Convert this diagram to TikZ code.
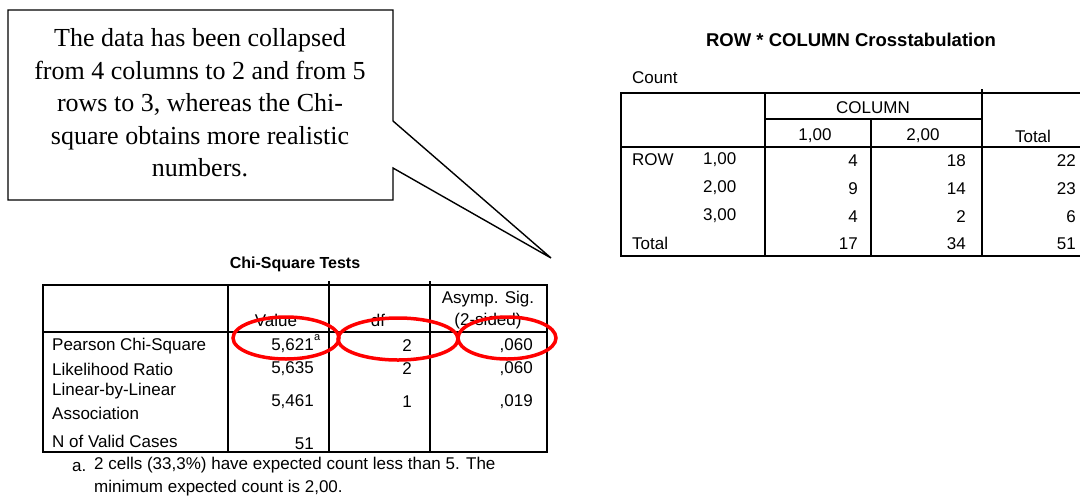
\documentclass[tikz,border=0pt]{standalone}
\usepackage{fontspec}
\setmainfont{Liberation Serif}
\newfontfamily\arial{Liberation Sans}
\usetikzlibrary{shapes.geometric}
\tikzset{
  tbl/.style={font=\arial\fontsize{17}{20}\selectfont, inner sep=0pt},
  ttl/.style={font=\arial\bfseries\fontsize{16}{19}\selectfont, inner sep=0pt},
  frame/.style={line width=1.6pt, line cap=rect},
  ring/.style={ellipse, draw=red, line width=3.5pt, inner sep=0pt},
  callout/.style={line width=1.4pt, line join=miter},
}
\begin{document}
\begin{tikzpicture}[x=1pt,y=-1pt]
\useasboundingbox (0,0) rectangle (1080,499);
\fill[white] (0,0) rectangle (1080,499);

% ---------- callout ----------
\coordinate (cTL) at (8,10);
\coordinate (cTR) at (393,10);
\coordinate (cN1) at (393,121);
\coordinate (tip) at (551,258);
\coordinate (cN2) at (393,168);
\coordinate (cBR) at (393,200);
\coordinate (cBL) at (8,200);
\draw[callout] (cTL) -- (cTR) -- (cN1) -- (tip) -- (cN2) -- (cBR) -- (cBL) -- cycle;
\node[align=center, inner sep=0pt, font=\fontsize{26}{32.5}\selectfont] (note) at (200,103)
  {The data has been collapsed\\from 4 columns to 2 and from 5\\rows to 3, whereas the Chi-\\square obtains more realistic\\numbers.};

% ---------- Chi-Square Tests ----------
\node[ttl] (chititle) at (295,264) {Chi-Square Tests};
\draw[frame] (43,285) rectangle (547,452);
\draw[frame] (43,332) -- (547,332);
\draw[frame] (228,285) -- (228,452);
\draw[frame] (329,282) -- (329,452);
\draw[frame] (430,282) -- (430,452);

\node[tbl] (hval) at (276,320) {Value};
\node[tbl] (hdf) at (378,320) {df};
\node[tbl] (hsig1) at (488,299) {Asymp. Sig.};
\node[tbl] (hsig2) at (488,321) {(2-sided)};

\node[tbl, anchor=west] (r1) at (52,346) {Pearson Chi-Square};
\node[tbl, anchor=west] (r2) at (52,369) {Likelihood Ratio};
\node[tbl, anchor=west] (r3a) at (52,391) {Linear-by-Linear};
\node[tbl, anchor=west] (r3b) at (52,413) {Association};
\node[tbl, anchor=west] (r4) at (52,441) {N of Valid Cases};

\node[tbl, anchor=east] (v1) at (314,346) {5,621};
\node[tbl, anchor=south west, font=\arial\fontsize{11}{12}\selectfont] (v1a) at ([yshift=-2pt]v1.north east) {a};
\node[tbl, anchor=east] (v2) at (314,369) {5,635};
\node[tbl, anchor=east] (v3) at (314,402) {5,461};
\node[tbl, anchor=east] (v4) at (314,444) {51};

\node[tbl, anchor=east] (d1) at (412,346) {2};
\node[tbl, anchor=east] (d2) at (412,369) {2};
\node[tbl, anchor=east] (d3) at (412,402) {1};

\node[tbl, anchor=east] (s1) at (533,346) {,060};
\node[tbl, anchor=east] (s2) at (533,369) {,060};
\node[tbl, anchor=east] (s3) at (533,402) {,019};

\node[tbl, anchor=base west] (fa) at (72,471) {a.};
\node[tbl, anchor=base west] (f1) at (94,469) {2 cells (33,3\%) have expected count less than 5. The};
\node[tbl, anchor=base west] (f2) at (94,492) {minimum expected count is 2,00.};

% red rings
\node[ring, minimum width=106pt, minimum height=42pt] (e1) at (286,338) {};
\node[ring, minimum width=120pt, minimum height=42pt] (e2) at (398,339) {};
\node[ring, minimum width=98pt, minimum height=42pt] (e3) at (507,338) {};

% ---------- Crosstabulation ----------
\node[ttl, font=\arial\bfseries\fontsize{18.5}{22}\selectfont] (xtitle) at (851,40) {ROW * COLUMN Crosstabulation};
\node[tbl, anchor=west] (count) at (632,78) {Count};
\draw[frame] (1095,93) -- (621,93) -- (621,256) -- (1095,256);
\draw[frame] (621,147) -- (1095,147);
\draw[frame] (765,119) -- (982,119);
\draw[frame] (765,93) -- (765,256);
\draw[frame] (871,119) -- (871,256);
\draw[frame] (982,90) -- (982,256);

\node[tbl] (xcol) at (873,108) {COLUMN};
\node[tbl] (xc1) at (815,136) {1,00};
\node[tbl] (xc2) at (923,136) {2,00};
\node[tbl] (xct) at (1033,136) {Total};

\node[tbl, anchor=west] (xrow) at (632,160) {ROW};
\node[tbl, anchor=west] (xr1) at (703,160) {1,00};
\node[tbl, anchor=west] (xr2) at (703,188) {2,00};
\node[tbl, anchor=west] (xr3) at (703,216) {3,00};
\node[tbl, anchor=west] (xrt) at (632,243) {Total};

\node[tbl, anchor=east] (a11) at (858,161) {4};
\node[tbl, anchor=east] (a21) at (858,189) {9};
\node[tbl, anchor=east] (a31) at (858,217) {4};
\node[tbl, anchor=east] (a41) at (858,244) {17};
\node[tbl, anchor=east] (a12) at (966,161) {18};
\node[tbl, anchor=east] (a22) at (966,189) {14};
\node[tbl, anchor=east] (a32) at (966,217) {2};
\node[tbl, anchor=east] (a42) at (966,244) {34};
\node[tbl, anchor=east] (a13) at (1076,161) {22};
\node[tbl, anchor=east] (a23) at (1076,189) {23};
\node[tbl, anchor=east] (a33) at (1076,217) {6};
\node[tbl, anchor=east] (a43) at (1076,244) {51};
\end{tikzpicture}
\end{document}
